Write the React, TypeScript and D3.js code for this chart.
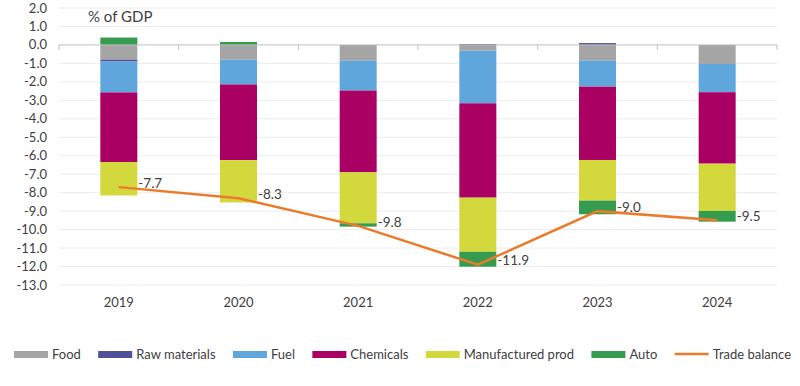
import React, { useEffect, useRef } from "react";
import * as d3 from "d3";

const years = ["2019", "2020", "2021", "2022", "2023", "2024"];
const categories = ["Food", "Raw materials", "Fuel", "Chemicals", "Manufactured prod", "Auto"];

const food = [-0.8, -0.8, -0.85, -0.31, -0.85, -1.03];
const rawMaterials = [-0.1, 0, 0, 0.05, 0.1, 0];
const fuel = [-1.67, -1.34, -1.62, -2.85, -1.41, -1.53];
const chemicals = [-3.77, -4.1, -4.43, -5.11, -3.97, -3.87];
const manufactured = [-1.81, -2.29, -2.76, -2.93, -2.2, -2.56];
const auto = [0.4, 0.16, -0.18, -0.81, -0.74, -0.58];
const tradeBalance = [-7.7, -8.3, -9.8, -11.9, -9.0, -9.5];

const yTicks = [2, 1, 0, -1, -2, -3, -4, -5, -6, -7, -8, -9, -10, -11, -12, -13];

const colors = ["#a5a5a5", "#4f4f9a", "#5fa6dd", "#ab0063", "#d3d93d", "#359c4f"];
const lineColor = "#eb7a2a";

export default function App() {
  const svgRef = useRef<SVGSVGElement>(null);

  useEffect(() => {
    const width = 800;
    const height = 386;
    const svg = d3.select(svgRef.current).attr("width", width).attr("height", height);
    svg.selectAll("*").remove();

    const font = "Lato, 'Noto Sans', sans-serif";
    const textColor = "#404040";

    const rows = years.map((yr, i) => ({
      year: yr,
      "Food": food[i],
      "Raw materials": rawMaterials[i],
      "Fuel": fuel[i],
      "Chemicals": chemicals[i],
      "Manufactured prod": manufactured[i],
      "Auto": auto[i],
    }));

    const x = d3.scaleBand().domain(years).range([59, 777]).padding(0);
    const y = d3.scaleLinear().domain([-13, 2]).range([285, 8]);
    const barW = 37;

    // gridlines
    svg
      .append("g")
      .selectAll("line")
      .data(yTicks.filter((d) => d !== 0))
      .enter()
      .append("line")
      .attr("x1", 59)
      .attr("x2", 777)
      .attr("y1", (d) => y(d))
      .attr("y2", (d) => y(d))
      .attr("stroke", "#ececec")
      .attr("stroke-width", 1);

    // y labels
    svg
      .append("g")
      .selectAll("text")
      .data(yTicks)
      .enter()
      .append("text")
      .attr("x", 47)
      .attr("y", (d) => y(d))
      .attr("dy", "0.35em")
      .attr("text-anchor", "end")
      .attr("font-family", font)
      .attr("font-size", 13)
      .attr("fill", textColor)
      .text((d) => d.toFixed(1));

    // stacked bars
    const series = d3
      .stack<any>()
      .keys(categories)
      .offset(d3.stackOffsetDiverging)(rows);

    svg
      .append("g")
      .selectAll("g")
      .data(series)
      .enter()
      .append("g")
      .attr("fill", (_d, i) => colors[i])
      .selectAll("rect")
      .data((d) => d)
      .enter()
      .append("rect")
      .attr("x", (d: any) => x(d.data.year)! + x.bandwidth() / 2 - barW / 2)
      .attr("y", (d) => y(Math.max(d[0], d[1])))
      .attr("width", barW)
      .attr("height", (d) => Math.abs(y(d[0]) - y(d[1])));

    // zero axis
    const axis = svg.append("g").attr("transform", `translate(0,${y(0)})`);
    axis
      .append("line")
      .attr("x1", 59)
      .attr("x2", 777)
      .attr("stroke", "#bfbfbf")
      .attr("stroke-width", 1);
    const bounds = years.map((yr) => x(yr)!).concat([777]);
    axis
      .selectAll("line.tick")
      .data(bounds)
      .enter()
      .append("line")
      .attr("class", "tick")
      .attr("x1", (d) => d)
      .attr("x2", (d) => d)
      .attr("y1", 0)
      .attr("y2", 5)
      .attr("stroke", "#bfbfbf");

    // x labels
    svg
      .append("g")
      .selectAll("text")
      .data(years)
      .enter()
      .append("text")
      .attr("x", (d) => x(d)! + x.bandwidth() / 2)
      .attr("y", 307)
      .attr("text-anchor", "middle")
      .attr("font-family", font)
      .attr("font-size", 13)
      .attr("fill", textColor)
      .text((d) => d);

    // trade balance line
    const line = d3
      .line<number>()
      .x((_d, i) => x(years[i])! + x.bandwidth() / 2)
      .y((d) => y(d));
    svg
      .append("path")
      .datum(tradeBalance)
      .attr("d", line)
      .attr("fill", "none")
      .attr("stroke", lineColor)
      .attr("stroke-width", 2.5);

    svg
      .append("g")
      .selectAll("text")
      .data(tradeBalance)
      .enter()
      .append("text")
      .attr("x", (_d, i) => x(years[i])! + x.bandwidth() / 2 + barW / 2 + 1)
      .attr("y", (d) => y(d) - 4)
      .attr("dy", "0.35em")
      .attr("font-family", font)
      .attr("font-size", 13.5)
      .attr("fill", textColor)
      .text((d) => d.toFixed(1));

    // title
    svg
      .append("text")
      .attr("x", 88)
      .attr("y", 22)
      .attr("font-family", font)
      .attr("font-size", 15)
      .attr("fill", textColor)
      .text("% of GDP");

    // legend
    const legendItems = categories
      .map((c, i) => ({ label: c, color: colors[i], line: false }))
      .concat([{ label: "Trade balance", color: lineColor, line: true }]);
    const lg = svg.append("g");
    const items = lg
      .selectAll("g")
      .data(legendItems)
      .enter()
      .append("g");
    items
      .append("text")
      .attr("font-family", font)
      .attr("font-size", 13)
      .attr("fill", textColor)
      .attr("y", 354)
      .attr("dy", "0.35em")
      .text((d) => d.label);
    const widths: number[] = [];
    items.select("text").each(function () {
      widths.push((this as SVGTextElement).getComputedTextLength());
    });
    const sw = 34;
    const total = widths.reduce((a, b) => a + b + sw + 4, 0);
    const gap = (791 - 14 - total) / (legendItems.length - 1);
    let cx = 14;
    items.each(function (d, i) {
      const g = d3.select(this);
      if (d.line) {
        g.append("line")
          .attr("x1", cx)
          .attr("x2", cx + sw)
          .attr("y1", 354)
          .attr("y2", 354)
          .attr("stroke", d.color)
          .attr("stroke-width", 2.5);
      } else {
        g.append("rect")
          .attr("x", cx)
          .attr("y", 351)
          .attr("width", sw)
          .attr("height", 7)
          .attr("fill", d.color);
      }
      g.select("text").attr("x", cx + sw + 4);
      cx += sw + 4 + widths[i] + gap;
    });
  }, []);

  return (
    <svg
      ref={svgRef}
      style={{ position: "absolute", left: 0, top: 0, background: "#fff" }}
    ></svg>
  );
}
